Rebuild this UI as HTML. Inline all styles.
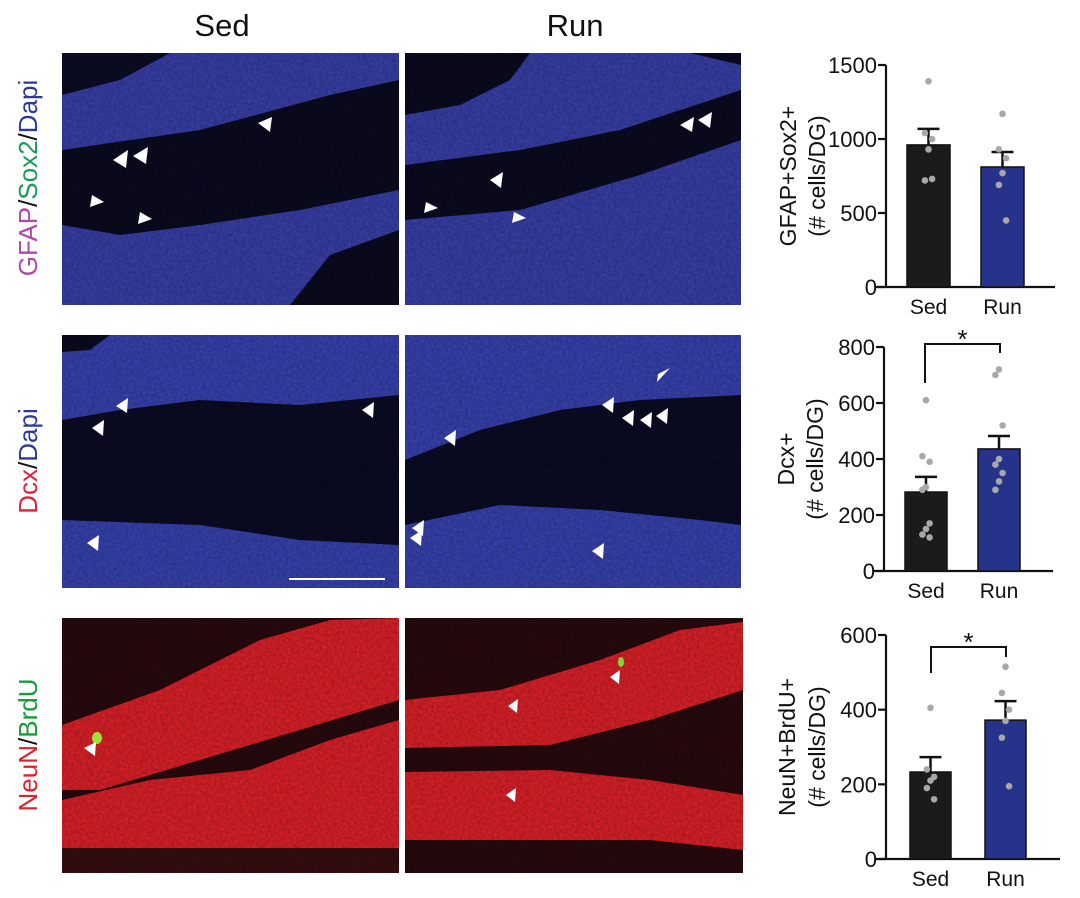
<!DOCTYPE html>
<html><head><meta charset="utf-8"><style>
body{margin:0;background:#fff;}
svg{display:block;font-family:"Liberation Sans",Arial,sans-serif;}
</style></head><body>
<svg id="fig" width="1080" height="898" viewBox="0 0 1080 898" xmlns="http://www.w3.org/2000/svg">
<defs>
<filter id="grain" x="0" y="0" width="100%" height="100%">
<feTurbulence type="fractalNoise" baseFrequency="0.35" numOctaves="2" seed="3"/>
<feColorMatrix type="matrix" values="0 0 0 0 0  0 0 0 0 0  0 0 0 0 0  0 0 0 0.35 0"/>
</filter>
<clipPath id="c1"><rect x="62" y="53" width="337" height="252"/></clipPath>
<clipPath id="c2"><rect x="405" y="53" width="336" height="252"/></clipPath>
<clipPath id="c3"><rect x="62" y="335" width="337" height="253"/></clipPath>
<clipPath id="c4"><rect x="405" y="335" width="336" height="253"/></clipPath>
<clipPath id="c5"><rect x="62" y="618" width="337" height="255"/></clipPath>
<clipPath id="c6"><rect x="405" y="618" width="338" height="255"/></clipPath>
</defs>

<text x="222" y="36" font-size="31" text-anchor="middle" fill="#111">Sed</text>
<text x="575" y="36" font-size="31" text-anchor="middle" fill="#111">Run</text>

<text transform="translate(37,178) rotate(-90)" font-size="26" text-anchor="middle"><tspan fill="#b04aa8">GFAP</tspan><tspan fill="#111">/</tspan><tspan fill="#1a9a5a">Sox2</tspan><tspan fill="#111">/</tspan><tspan fill="#2a3a9a">Dapi</tspan></text>
<text transform="translate(37,461) rotate(-90)" font-size="26" text-anchor="middle"><tspan fill="#e0203a">Dcx</tspan><tspan fill="#111">/</tspan><tspan fill="#2a3a9a">Dapi</tspan></text>
<text transform="translate(37,745) rotate(-90)" font-size="26" text-anchor="middle"><tspan fill="#e0202a">NeuN</tspan><tspan fill="#111">/</tspan><tspan fill="#1a9a3a">BrdU</tspan></text>

<g clip-path="url(#c1)">
<rect x="62" y="53" width="337" height="252" fill="#3b42b0"/>
<polygon points="62,53 170,53 120,80 62,95" fill="#0c0c28"/>
<polygon points="62,150 200,130 330,95 399,80 399,190 300,210 200,225 120,235 62,225" fill="#0b0b22"/>
<polygon points="290,305 330,255 399,230 399,305" fill="#0b0b22"/>
<rect x="62" y="53" width="337" height="252" filter="url(#grain)"/>
<polygon points="258,123 272,117 270,132" fill="#fff"/>
<polygon points="113,160 128,150 126,168" fill="#fff"/>
<polygon points="133,156 148,147 146,164" fill="#fff"/>
<polygon points="92,195 104,202 90,207" fill="#fff"/>
<polygon points="140,212 152,219 138,224" fill="#fff"/>
</g>
<g clip-path="url(#c2)">
<rect x="405" y="53" width="336" height="252" fill="#3b42b0"/>
<polygon points="405,53 530,53 510,80 460,105 405,115" fill="#0b0b22"/>
<polygon points="405,165 520,150 620,130 741,90 741,140 640,175 520,210 405,220" fill="#0b0b22"/>
<polygon points="690,53 741,53 741,65" fill="#0b0b22"/>
<rect x="405" y="53" width="336" height="252" filter="url(#grain)"/>
<polygon points="680,125 694,117 692,132" fill="#fff"/>
<polygon points="698,120 712,112 710,128" fill="#fff"/>
<polygon points="490,180 503,172 501,188" fill="#fff"/>
<polygon points="426,202 438,208 424,213" fill="#fff"/>
<polygon points="514,212 526,218 512,223" fill="#fff"/>
</g>
<g clip-path="url(#c3)">
<rect x="62" y="335" width="337" height="253" fill="#0b0b26"/>
<polygon points="62,335 399,335 399,395 300,405 200,400 120,410 62,420" fill="#3a45b8"/>
<polygon points="62,520 200,525 300,540 399,545 399,588 62,588" fill="#3a45b8"/>
<polygon points="62,335 110,335 90,350 62,352" fill="#0b0b22"/>
<rect x="62" y="335" width="337" height="253" filter="url(#grain)"/>
<polygon points="116,406 128,398 127,413" fill="#fff"/>
<polygon points="92,428 104,420 103,436" fill="#fff"/>
<polygon points="362,410 374,402 373,418" fill="#fff"/>
<polygon points="87,543 99,535 98,551" fill="#fff"/>
<rect x="289" y="578" width="96" height="2" fill="#fff"/>
</g>
<g clip-path="url(#c4)">
<rect x="405" y="335" width="336" height="253" fill="#0b0b26"/>
<polygon points="405,335 741,335 741,395 640,400 560,410 480,430 405,460" fill="#3a45b8"/>
<polygon points="405,525 500,505 600,510 700,520 741,525 741,588 405,588" fill="#3a45b8"/>
<rect x="405" y="335" width="336" height="253" filter="url(#grain)"/>
<polygon points="658,374 670,368 657,382" fill="#fff"/>
<polygon points="602,405 614,397 613,413" fill="#fff"/>
<polygon points="622,418 634,410 633,426" fill="#fff"/>
<polygon points="640,420 652,412 651,428" fill="#fff"/>
<polygon points="656,416 668,408 667,424" fill="#fff"/>
<polygon points="444,438 456,430 455,446" fill="#fff"/>
<polygon points="412,528 424,520 423,536" fill="#fff"/>
<polygon points="410,538 422,530 421,546" fill="#fff"/>
<polygon points="592,551 604,543 603,559" fill="#fff"/>
</g>
<g clip-path="url(#c5)">
<rect x="62" y="618" width="337" height="255" fill="#2a0a0e"/>
<polygon points="62,725 160,690 260,640 330,620 399,618 399,700 300,730 200,760 100,790 62,790" fill="#e8222a"/>
<polygon points="62,800 150,780 250,770 330,740 399,720 399,873 62,873" fill="#e8222a"/>
<rect x="62" y="848" width="337" height="25" fill="#3a0e10"/>
<rect x="62" y="618" width="337" height="255" filter="url(#grain)"/>
<ellipse cx="97" cy="738" rx="5" ry="6" fill="#9be23a"/>
<polygon points="84,748 96,742 95,756" fill="#fff"/>
</g>
<g clip-path="url(#c6)">
<rect x="405" y="618" width="338" height="255" fill="#2a0a0e"/>
<polygon points="405,700 500,690 600,660 680,630 743,622 743,690 650,720 550,745 405,748" fill="#e8222a"/>
<polygon points="405,772 550,770 650,780 743,795 743,850 650,840 405,840" fill="#e8222a"/>
<rect x="405" y="618" width="338" height="255" filter="url(#grain)"/>
<ellipse cx="621" cy="662" rx="3" ry="5" fill="#7ad83a"/>
<polygon points="610,677 620,670 619,684" fill="#fff"/>
<polygon points="508,706 518,699 517,713" fill="#fff"/>
<polygon points="506,795 516,788 515,802" fill="#fff"/>
</g>

<g id="charts"></g>
</svg>
<script>
const groups = ["Sed", "Run"];
const gfapMeans = [960, 811];
const gfapSem = [108, 101];
const gfapSedPts = [1390, 1040, 1000, 930, 720, 730];
const gfapRunPts = [1170, 930, 870, 770, 690, 450];
const gfapTicks = [0, 500, 1000, 1500];
const dcxMeans = [282, 436];
const dcxSem = [54, 46];
const dcxSedPts = [610, 410, 390, 300, 290, 170, 150, 130, 120];
const dcxRunPts = [720, 700, 520, 400, 380, 350, 320, 290];
const dcxTicks = [0, 200, 400, 600, 800];
const neunMeans = [233, 372];
const neunSem = [40, 51];
const neunSedPts = [405, 240, 220, 210, 190, 160];
const neunRunPts = [515, 445, 400, 370, 325, 195];
const neunTicks = [0, 200, 400, 600];

const NS = "http://www.w3.org/2000/svg";
const root = document.getElementById("charts");
function mk(tag, attrs, parent){const e=document.createElementNS(NS,tag);for(const k in attrs)e.setAttribute(k,attrs[k]);(parent||root).appendChild(e);return e;}

function chart(cfg){
  const g = mk("g",{});
  
  
  const ymax = cfg.ticks[cfg.ticks.length-1];
  const y = v => cfg.y0 - (v/ymax)*(cfg.y0-cfg.ytop);
  const ya = mk("line",{x1:cfg.ax,y1:cfg.ytop,x2:cfg.ax,y2:cfg.y0,stroke:"#111","stroke-width":2.2},g);
  
  
  const xa = mk("line",{x1:cfg.ax-10,y1:cfg.y0,x2:cfg.xend,y2:cfg.y0,stroke:"#111","stroke-width":2.2},g);
  
  
  cfg.ticks.forEach(t=>{
    mk("line",{x1:cfg.ax-8,y1:y(t),x2:cfg.ax,y2:y(t),stroke:"#111","stroke-width":2.2},g);
    const tl = mk("text",{x:cfg.ax-9,y:y(t)+8,"font-size":22,"text-anchor":"end",fill:"#111"},g);
    
    
    tl.textContent = t;
  });
  const colors=["#1c1a1b","#27338a"];
  const pts=[cfg.sedPts,cfg.runPts];
  groups.forEach((grp,i)=>{
    const x0=cfg.bx[i], w=cfg.bw, cx=x0+w/2;
    const b = mk("rect",{x:x0,y:y(cfg.means[i]),width:w,height:cfg.y0-y(cfg.means[i]),fill:colors[i],stroke:"#111","stroke-width":1.5},g);
    
    
    const top=y(cfg.means[i]+cfg.sem[i]);
    const eb = mk("path",{d:`M${cx},${y(cfg.means[i])} V${top} M${cx-11},${top} H${cx+11}`,stroke:"#111","stroke-width":2.5,fill:"none"},g);
    
    
    pts[i].forEach((v,j)=>{
      const off = (j%3===0)?0:((j%3===1)?-6:6);
      const c = mk("circle",{cx:cx+off*0.6,cy:y(v),r:3.3,fill:"#a8a8a8"},g);
      
      
    });
    const lab = mk("text",{x:cx,y:cfg.y0+27,"font-size":21,"text-anchor":"middle",fill:"#111"},g);
    
    
    lab.textContent = grp;
  });
  const tt = mk("text",{transform:`translate(${cfg.titleX},${(cfg.y0+cfg.ytop)/2}) rotate(-90)`,"font-size":23,"text-anchor":"middle",fill:"#111"},g);
  
  
  const t1 = mk("tspan",{x:0,dy:0},tt); t1.textContent = cfg.title;
  const t2 = mk("tspan",{x:0,dy:cfg.gap},tt); t2.textContent = "(# cells/DG)";
  if(cfg.bracket){
    const br = cfg.bracket;
    const p = mk("path",{d:`M${br[0]},${br[2]} V${br[1]} H${br[3]} V${br[4]}`,stroke:"#111","stroke-width":2,fill:"none"},g);
    
    
    const s = mk("text",{x:(br[0]+br[3])/2,y:br[1]+4,"font-size":26,"text-anchor":"middle",fill:"#111"},g);
    
    
    s.textContent = "*";
  }
}
chart({name:"gfap-sox2-chart",ax:886,y0:287,ytop:65,xend:1055,bx:[907,981],bw:43,means:gfapMeans,sem:gfapSem,sedPts:gfapSedPts,runPts:gfapRunPts,ticks:gfapTicks,title:"GFAP+Sox2+",titleX:796,gap:29});
chart({name:"dcx-chart",ax:884,y0:571,ytop:347,xend:1053,bx:[905,978],bw:42,means:dcxMeans,sem:dcxSem,sedPts:dcxSedPts,runPts:dcxRunPts,ticks:dcxTicks,title:"Dcx+",titleX:794,gap:29,bracket:[925,344,383,1000,353]});
chart({name:"neun-brdu-chart",ax:886,y0:859,ytop:635,xend:1060,bx:[910,985],bw:41,means:neunMeans,sem:neunSem,sedPts:neunSedPts,runPts:neunRunPts,ticks:neunTicks,title:"NeuN+BrdU+",titleX:795,gap:30,bracket:[931,647,673,1006,657]});
</script>
</body></html>
